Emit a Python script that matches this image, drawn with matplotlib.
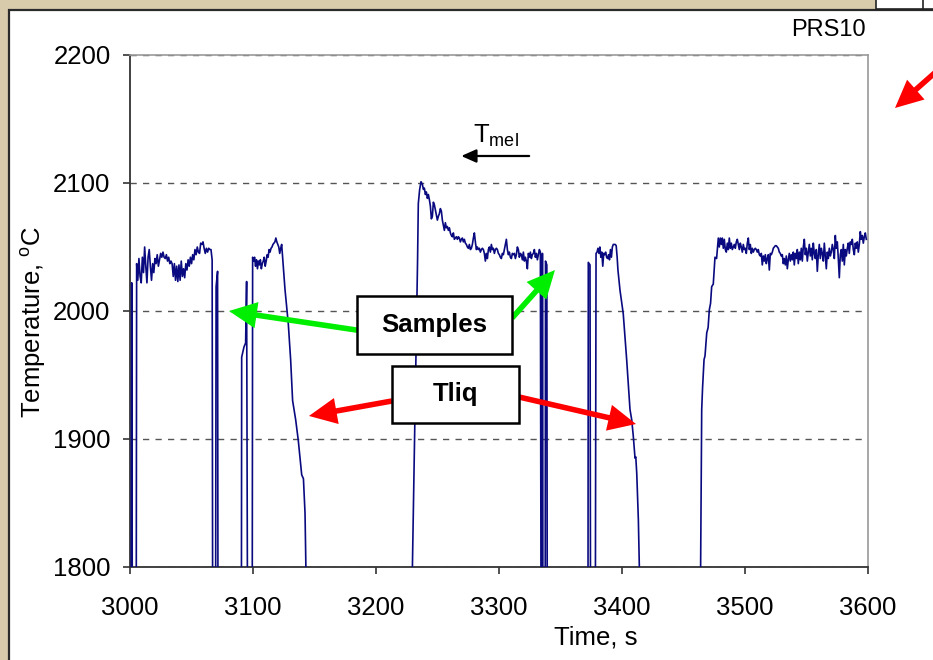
import numpy as np
import matplotlib
matplotlib.use('Agg')
import matplotlib.pyplot as plt
from matplotlib.patches import Rectangle, FancyArrowPatch

plt.rcParams['font.family'] = ['Liberation Sans', 'DejaVu Sans']
plt.rcParams['mathtext.fontset'] = 'custom'
plt.rcParams['mathtext.rm'] = 'Liberation Sans'
plt.rcParams['mathtext.it'] = 'Liberation Sans:italic'
plt.rcParams['mathtext.bf'] = 'Liberation Sans:bold'

# ---------------- data (time in s, temperature in degC) ----------------
# values below 1800 = pyrometer out of range (probe / sampling), clipped by the axis
below = 1700

start_t = [3000.8, 3001.4, 3002.0, 3005.0]
start_T = [below, 2022, below, below]

plateau_a_t0, plateau_a_dt = 3005.4, 0.93
plateau_a_T = [2037, 2024, 2041, 2027, 2022, 2042, 2030, 2050, 2035, 2022,
               2042, 2048, 2035, 2024, 2037, 2030, 2041, 2037, 2044, 2035,
               2040, 2045, 2042, 2046, 2042, 2041, 2044, 2039, 2042, 2037,
               2039, 2037, 2027, 2037, 2024, 2035, 2023, 2036, 2024, 2039,
               2027, 2033, 2026, 2037, 2032, 2040, 2035, 2042, 2037, 2044,
               2040, 2048, 2044, 2050, 2046, 2045, 2053, 2052, 2054, 2049,
               2045, 2049, 2046, 2049, 2048, 2048, 2040]

gap_ab_t = [3067.3, 3069.5, 3070.0, 3071.2, 3071.6, 3090.5, 3090.8, 3092.7,
            3094.0, 3094.8, 3095.7, 3099.3]
gap_ab_T = [below, below, 2019, 2031, below, below, 1964, 1972,
            1975, 2023, below, below]

plateau_b_t0, plateau_b_dt = 3099.7, 0.787
plateau_b_T = [2042, 2039, 2042, 2035, 2040, 2033, 2039, 2036, 2040, 2033,
               2037, 2039, 2042, 2035, 2039, 2044, 2042, 2048, 2046, 2049,
               2050, 2052, 2053, 2054, 2057, 2054, 2052, 2050, 2045, 2049,
               2052, 2042]

fall_b_t = [3125.2, 3126.0, 3128.7, 3130.6, 3132.2, 3134.7, 3136.8, 3139.6,
            3141.0, 3142.3, 3143.0, 3143.5, 3229.3, 3229.6, 3233.8, 3234.4,
            3235.5, 3236.6]
fall_b_T = [2027, 2017, 1990, 1962, 1930, 1915, 1899, 1872,
            1869, 1842, 1800, below, below, 1800, 2040, 2084,
            2095, 2101]

plateau_c_t0, plateau_c_dt = 3237.7, 0.813
plateau_c_T = [2099, 2095, 2096, 2091, 2093, 2088, 2091, 2087, 2082, 2072,
               2074, 2085, 2083, 2079, 2075, 2071, 2074, 2076, 2080, 2078,
               2071, 2067, 2063, 2069, 2065, 2066, 2063, 2065, 2061, 2059,
               2058, 2061, 2056, 2057, 2058, 2056, 2058, 2057, 2054, 2056,
               2057, 2054, 2056, 2053, 2052, 2050, 2049, 2052, 2048, 2049,
               2052, 2057, 2061, 2054, 2048, 2050, 2048, 2049, 2046, 2048,
               2049, 2048, 2045, 2039, 2045, 2041, 2048, 2050, 2046, 2052,
               2048, 2049, 2045, 2048, 2049, 2048, 2045, 2044, 2042, 2041,
               2045, 2044, 2048, 2052, 2056, 2048, 2044, 2046, 2042, 2041,
               2045, 2044, 2045, 2041, 2044, 2050, 2048, 2042, 2045, 2044,
               2040, 2046, 2039, 2042, 2039, 2033, 2045, 2042, 2046, 2041,
               2044, 2045, 2048, 2042, 2045, 2040, 2044, 2048, 2046]

gap_cd_t = [3334.3, 3335.0, 3335.3, 3335.8, 3337.5, 3337.8, 3338.9, 3339.3,
            3372.3, 3372.6, 3374.0, 3374.5, 3378.2]
gap_cd_T = [below, below, 2045, below, below, 2039, 2036, below,
            below, 2038, 2036, below, below]

plateau_d_t0, plateau_d_dt = 3378.9, 0.78
plateau_d_T = [2045, 2046, 2049, 2045, 2050, 2042, 2046, 2035, 2045, 2044,
               2046, 2042, 2041, 2044, 2040, 2048, 2042, 2050, 2052, 2052,
               2052, 2051, 2042]

fall_d_t = [3396.7, 3398.4, 3401.0, 3403.8, 3406.5, 3407.9, 3409.2, 3410.6,
            3411.2, 3412.0, 3413.3, 3414.1, 3414.6,
            3463.2, 3464.8, 3465.5, 3466.7, 3467.5, 3468.9, 3470.0, 3471.0,
            3472.0, 3472.9, 3474.2, 3475.6, 3476.9]
fall_d_T = [2032, 2016, 1998, 1962, 1923, 1915, 1902, 1885,
            1886, 1873, 1837, 1800, below,
            below, 1923, 1940, 1962, 1965, 1983, 1987, 2001,
            2006, 2019, 2021, 2042, 2041]

plateau_e_t0, plateau_e_dt = 3478.3, 0.813
plateau_e_T = [2057, 2050, 2057, 2052, 2057, 2049, 2056, 2048, 2046, 2053,
               2048, 2057, 2049, 2053, 2048, 2050, 2052, 2049, 2054, 2056,
               2052, 2048, 2053, 2050, 2046, 2052, 2048, 2049, 2045, 2053,
               2057, 2048, 2052, 2045, 2049, 2046, 2048, 2049, 2048, 2046,
               2048, 2044, 2043, 2045, 2036, 2043, 2039, 2044, 2037, 2041,
               2044, 2032, 2045, 2044, 2046, 2049, 2050, 2051, 2051, 2050,
               2049, 2046, 2045, 2043, 2044, 2037, 2041, 2036, 2043, 2033,
               2040, 2045, 2039, 2044, 2040, 2046, 2036, 2045, 2041, 2048,
               2037, 2046, 2040, 2049, 2039, 2050, 2056, 2044, 2049, 2039,
               2046, 2052, 2043, 2049, 2040, 2053, 2045, 2041, 2048, 2031,
               2044, 2052, 2041, 2049, 2045, 2039, 2053, 2043, 2033, 2046,
               2041, 2049, 2043, 2046, 2052, 2048, 2041, 2059, 2049, 2054,
               2041, 2026, 2044, 2048, 2039, 2052, 2036, 2048, 2043, 2049,
               2053, 2045, 2054, 2052, 2056, 2048, 2044, 2053, 2049, 2054,
               2046, 2052, 2062, 2056, 2059, 2053, 2058, 2061, 2056]

x_ticks = [3000, 3100, 3200, 3300, 3400, 3500, 3600]
y_ticks = [1800, 1900, 2000, 2100, 2200]


def plateau(t0, dt, vals):
    return list(t0 + dt * np.arange(len(vals))), list(vals)


pa_t, pa_T = plateau(plateau_a_t0, plateau_a_dt, plateau_a_T)
pb_t, pb_T = plateau(plateau_b_t0, plateau_b_dt, plateau_b_T)
pc_t, pc_T = plateau(plateau_c_t0, plateau_c_dt, plateau_c_T)
pd_t, pd_T = plateau(plateau_d_t0, plateau_d_dt, plateau_d_T)
pe_t, pe_T = plateau(plateau_e_t0, plateau_e_dt, plateau_e_T)

time = np.array(start_t + pa_t + gap_ab_t + pb_t + fall_b_t + pc_t + gap_cd_t
                + pd_t + fall_d_t + pe_t)
temp = np.array(start_T + pa_T + gap_ab_T + pb_T + fall_b_T + pc_T + gap_cd_T
                + pd_T + fall_d_T + pe_T)

# ---------------- figure ----------------
W, H = 933, 660
fig = plt.figure(figsize=(W / 100, H / 100), dpi=100)
fig.patch.set_facecolor('#d8cbab')

# white slide panel (behind the axes)
fig.patches.append(Rectangle((9 / W, -0.01), 1.02, 1 - 10 / H + 0.01,
                             transform=fig.transFigure, facecolor='white',
                             edgecolor='#2a2a2a', lw=1.6, zorder=-10))
# small table fragment top right
fig.patches.append(Rectangle((876 / W, 1 - 9 / H), 60 / W, 12 / H,
                             transform=fig.transFigure, facecolor='white',
                             edgecolor='#222222', lw=1.2, zorder=-9))
fig.lines.append(plt.Line2D([923 / W, 923 / W], [1 - 9 / H, 1.0],
                            transform=fig.transFigure, color='#222222', lw=1.2,
                            zorder=-8))

ax = fig.add_axes([130 / W, 1 - 567 / H, 738 / W, 512 / H])
ax.set_zorder(1)
ax.set_facecolor('white')

ax.plot(time, temp, color='#0a0a80', lw=1.2, zorder=3)

ax.set_xlim(3000, 3600)
ax.set_ylim(1800, 2200)
ax.set_xticks(x_ticks)
ax.set_yticks(y_ticks)
ax.tick_params(axis='both', direction='out', length=5, width=1.2,
               color='#333333', labelsize=18.5)
ax.tick_params(axis='x', pad=16)
ax.tick_params(axis='y', pad=9)

for s in ['top', 'right']:
    ax.spines[s].set_color('#9a9a9a')
    ax.spines[s].set_linewidth(1.2)
for s in ['left', 'bottom']:
    ax.spines[s].set_color('#333333')
    ax.spines[s].set_linewidth(1.3)

ax.yaxis.grid(True, linestyle=(0, (4.5, 4.5)), color='#555555', lw=1.0)
ax.set_axisbelow(True)

fig.text(596 / W, 1 - 637 / H, 'Time, s', ha='center', va='center', fontsize=18.5)
fig.text(33 / W, 1 - 322 / H, r'Temperature, $^{\mathregular{o}}$C',
         ha='center', va='center', rotation=90, fontsize=18.5)
fig.text(866 / W, 1 - 30 / H, 'PRS10', ha='right', va='center', fontsize=17)

# boxes
samples_box = Rectangle((0.3076, 0.416), 0.21, 0.1133, transform=ax.transAxes,
                        facecolor='white', edgecolor='black', lw=1.8, zorder=6)
tliq_box = Rectangle((0.355, 0.28125), 0.1721, 0.1114, transform=ax.transAxes,
                     facecolor='white', edgecolor='black', lw=1.8, zorder=6)
ax.add_patch(samples_box)
ax.add_patch(tliq_box)
ax.text(0.4126, 0.4727, 'Samples', transform=ax.transAxes, ha='center',
        va='center', fontsize=18.5, fontweight='bold', zorder=7)
ax.text(0.4411, 0.337, 'Tliq', transform=ax.transAxes, ha='center',
        va='center', fontsize=18.5, fontweight='bold', zorder=7)

arrow_style = 'simple,head_width=1.9,head_length=2.0,tail_width=0.4'


def big_arrow(tail, tip, color):
    ax.annotate('', xy=tip, xytext=tail,
                arrowprops=dict(arrowstyle=arrow_style, mutation_scale=10,
                                color=color, shrinkA=0, shrinkB=0, lw=0),
                zorder=5, annotation_clip=False)


green = '#00ee00'
red = '#ff0000'
big_arrow((3185, 1985), (3080.5, 2000), green)
big_arrow((3310.6, 1994.5), (3345.5, 2032), green)
big_arrow((3213, 1929.7), (3145.5, 1918), red)
big_arrow((3316.3, 1932.8), (3411.4, 1911.7), red)

# red arrow at top right (coming from outside the slide)
fig.patches.append(FancyArrowPatch((955 / W, 1 - 55 / H), (895 / W, 1 - 108 / H),
                                   transform=fig.transFigure,
                                   arrowstyle=arrow_style, mutation_scale=10,
                                   color=red, lw=0, shrinkA=0, shrinkB=0,
                                   zorder=5))

# T_mel label with arrow
ax.text(3279.0, 2131.3, r'T$_{\mathregular{mel}}$', ha='left', va='baseline',
        fontsize=18.5, zorder=7)
ax.annotate('', xy=(3269.3, 2121.1), xytext=(3324.5, 2121.1),
            arrowprops=dict(arrowstyle='-|>,head_length=0.45,head_width=0.2',
                            mutation_scale=20, color='black', lw=1.6,
                            shrinkA=0, shrinkB=0), zorder=7)

fig.savefig('out.png', dpi=100, facecolor=fig.get_facecolor())
